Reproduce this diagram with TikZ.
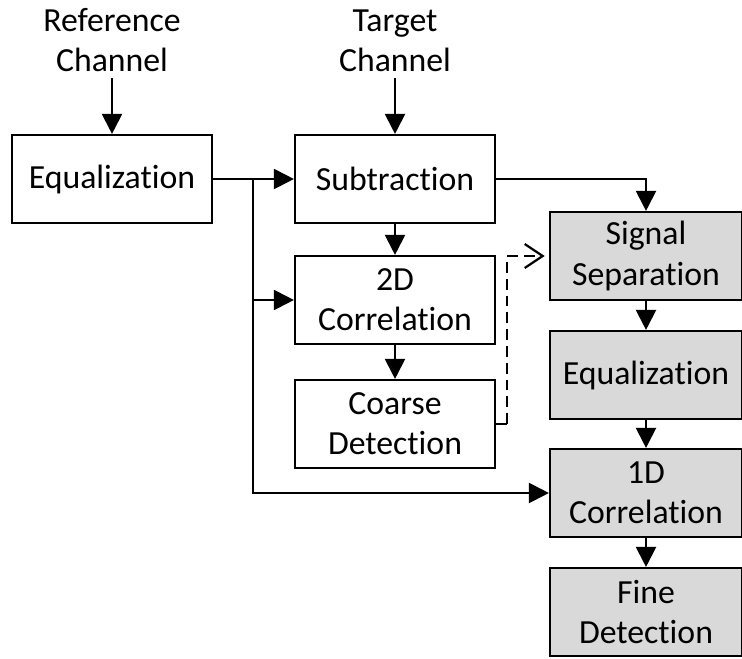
\documentclass[tikz,border=0pt]{standalone}
\usepackage{fontspec}
\setmainfont{Carlito}[Ligatures={NoCommon,NoContextual,NoRare}]
\usetikzlibrary{arrows.meta}

\tikzset{
  block/.style={draw, line width=1.5pt, align=center, minimum width=5cm, minimum height=2.2cm, inner sep=2pt},
  gblock/.style={block, fill=black!15, minimum width=4.8cm},
  flow/.style={line width=1.5pt, -{Triangle[length=0.5cm,width=0.5cm]}},
  hint/.style={line width=1.6pt, dash pattern=on 0.27cm off 0.15cm, -{Straight Barb[length=0.45cm,width=0.6cm,line width=1.6pt]}}
}

\begin{document}
\begin{tikzpicture}[x=0.025cm, y=-0.025cm, font=\fontsize{24}{28.5}\selectfont]
  \useasboundingbox (0,0) rectangle (742,658);

  % inputs
  \node[align=center, anchor=south, inner sep=4pt] (refin) at (112,78) {Reference\\Channel};
  \node[align=center, anchor=south, inner sep=4pt] (tgtin) at (395,78) {Target\\Channel};

  % left and middle column
  \node[block] (eqL) at (112,179) {Equalization};
  \node[block] (sub) at (395,179) {Subtraction};
  \node[block] (corr2) at (395,300) {2D\\Correlation};
  \node[block] (coarse) at (395,424) {Coarse\\Detection};

  % right column
  \node[gblock] (sigsep) at (646,256) {Signal\\Separation};
  \node[gblock] (eqR) at (646,375) {Equalization};
  \node[gblock] (corr1) at (646,493) {1D\\Correlation};
  \node[gblock] (fine) at (646,612) {Fine\\Detection};

  \coordinate (split) at (253,179);
  \coordinate (dash) at (507,424);

  \draw[flow] (refin.south) -- (eqL.north);
  \draw[flow] (tgtin.south) -- (sub.north);
  \draw[flow] (eqL.east) -- (sub.west);
  \draw[flow] (split) |- (corr2.west);
  \draw[flow] (split) |- (corr1.west);
  \draw[flow] (sub.south) -- (corr2.north);
  \draw[flow] (corr2.south) -- (coarse.north);
  \draw[flow] (sub.east) -| (sigsep.north);
  \draw[flow] (sigsep.south) -- (eqR.north);
  \draw[flow] (eqR.south) -- (corr1.north);
  \draw[flow] (corr1.south) -- (fine.north);

  \draw[line width=1.5pt] (coarse.east) -- (dash);
  \draw[hint, shorten >=3pt] (dash) |- (sigsep.west);
\end{tikzpicture}
\end{document}
